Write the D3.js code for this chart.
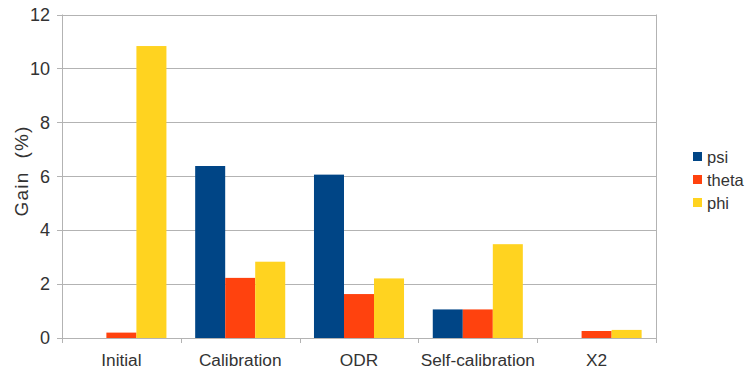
<!DOCTYPE html>
<html><head><meta charset="utf-8">
<script src="https://cdn.jsdelivr.net/npm/d3@7"></script>
<style>body{margin:0;background:#fff}svg{display:block}text{font-family:"Liberation Sans",Arial,sans-serif;fill:#333}</style>
</head><body>
<svg id="c" width="747" height="372"></svg>
<script>
const categories = ["Initial","Calibration","ODR","Self-calibration","X2"];
const seriesNames = ["psi","theta","phi"];
const psi   = [0, 6.38, 6.06, 1.06, 0];
const theta = [0.2, 2.23, 1.63, 1.06, 0.26];
const phi   = [10.83, 2.83, 2.21, 3.48, 0.3];
const yTicks = [0,2,4,6,8,10,12];
const colors = ["#004586","#ff420e","#ffd320"];
const series = [psi, theta, phi];

const svg = d3.select("#c");
const L = 62, R = 656, T = 14.5, B = 338;
const x0 = d3.scaleBand().domain(categories).range([L,R]).paddingInner(0.242).paddingOuter(0.121);
const x1 = d3.scaleBand().domain(seriesNames).range([0,x0.bandwidth()]);
const y = d3.scaleLinear().domain([0,12]).range([B,T]);
const grid = "#b3b3b3";

svg.append("g").selectAll("line").data(yTicks).join("line")
  .attr("x1",L-5).attr("x2",R).attr("y1",d=>Math.round(y(d))+0.5).attr("y2",d=>Math.round(y(d))+0.5)
  .attr("stroke",grid).attr("stroke-width",1);
svg.append("line").attr("x1",L+0.5).attr("x2",L+0.5).attr("y1",T).attr("y2",B+5).attr("stroke",grid);
svg.append("line").attr("x1",R+0.5).attr("x2",R+0.5).attr("y1",T).attr("y2",B+5).attr("stroke",grid);
const step = x0.step();
const bounds = d3.range(categories.length+1).map(i=>L+i*step);
svg.append("g").selectAll("line").data(bounds).join("line")
  .attr("x1",d=>Math.round(d)+0.5).attr("x2",d=>Math.round(d)+0.5).attr("y1",B).attr("y2",B+5).attr("stroke",grid);

svg.append("g").selectAll("text").data(yTicks).join("text")
  .attr("x",50).attr("y",d=>y(d)+6.3).attr("text-anchor","end").attr("font-size",18).text(d=>d);
svg.append("text").attr("transform","translate(28,171) rotate(-90)").attr("text-anchor","middle")
  .attr("font-size",19).attr("letter-spacing",1.2).style("white-space","pre").text("Gain  (%)");

categories.forEach((c,i)=>{
  seriesNames.forEach((s,j)=>{
    const v = series[j][i];
    if (v<=0) return;
    svg.append("rect").attr("x",x0(c)+x1(s)).attr("width",x1.bandwidth())
      .attr("y",y(v)).attr("height",B-y(v)).attr("fill",colors[j]);
  });
});

svg.append("g").selectAll("text").data(categories).join("text")
  .attr("x",d=>x0(d)+x0.bandwidth()/2).attr("y",366).attr("text-anchor","middle").attr("font-size",17.3).text(d=>d);

const lg = svg.append("g");
seriesNames.forEach((s,j)=>{
  lg.append("rect").attr("x",693).attr("y",152+j*23).attr("width",9).attr("height",9).attr("fill",colors[j]);
  lg.append("text").attr("x",707).attr("y",163+j*23).attr("font-size",16.5).text(s);
});
</script>
</body></html>
